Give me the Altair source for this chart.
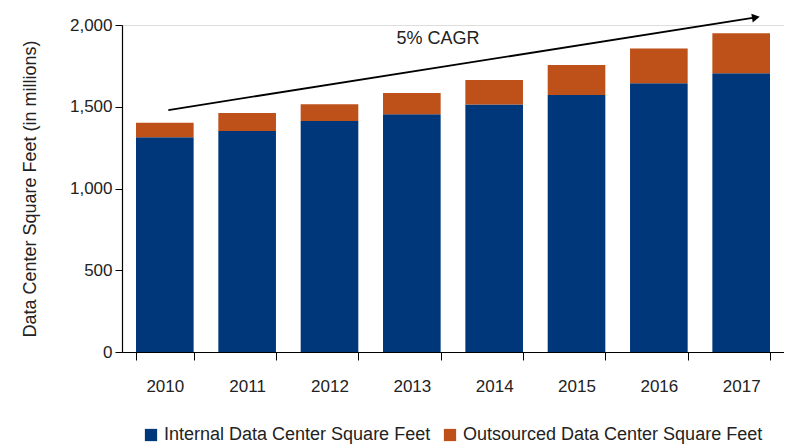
import altair as alt
import pandas as pd

years = ["2010", "2011", "2012", "2013", "2014", "2015", "2016", "2017"]
internal = [1313, 1352, 1413, 1454, 1513, 1572, 1643, 1705]
outsourced = [89, 110, 102, 130, 151, 183, 214, 244]
series = ["Internal Data Center Square Feet", "Outsourced Data Center Square Feet"]
colors = ["#00377A", "#BE501A"]

# annotation (arrow in band units along the year axis, value units on y)
arrow_x = [0.56, 7.66]
arrow_y = [1480, 2046]
cagr_label = "5% CAGR"
cagr_x = [3.82]
cagr_y = [1912]

FONT = "Liberation Sans"

rows = []
for i, yr in enumerate(years):
    rows.append({"year": yr, "series": series[0], "value": internal[i], "ord": 0})
    rows.append({"year": yr, "series": series[1], "value": outsourced[i], "ord": 1})
df = pd.DataFrame(rows)

ydom = [0, 2000]

bars = alt.Chart(df).mark_bar().encode(
    x=alt.X("year:N", sort=years,
            scale=alt.Scale(paddingInner=0.3, paddingOuter=0.17),
            axis=alt.Axis(title=None, labelAngle=0, tickBand="extent", tickSize=8,
                          labelPadding=18, labelFontSize=17, labelFont=FONT,
                          labelColor="#222222", domainColor="#000000",
                          tickColor="#000000", domainWidth=1.2)),
    y=alt.Y("value:Q", stack="zero",
            scale=alt.Scale(domain=ydom, nice=False),
            axis=alt.Axis(title="Data Center Square Feet (in millions)",
                          values=[0, 500, 1000, 1500, 2000], format=",.0f",
                          grid=False, tickSize=7, labelPadding=3,
                          labelFontSize=17, labelFont=FONT, labelColor="#222222",
                          titleFontSize=18, titleFont=FONT, titleFontWeight="normal",
                          titleColor="#222222", titlePadding=30,
                          domainColor="#000000", tickColor="#000000", domainWidth=1.2)),
    color=alt.Color("series:N",
                    scale=alt.Scale(domain=series, range=colors),
                    legend=alt.Legend(title=None, orient="none", direction="horizontal",
                                      legendX=20, legendY=401,
                                      symbolType="square", symbolSize=150,
                                      symbolStrokeWidth=0, labelFontSize=18,
                                      labelFont=FONT, labelColor="#222222",
                                      labelLimit=0, columnPadding=10, labelOffset=4)),
    order=alt.Order("ord:Q"),
)

arrow_df = pd.DataFrame({"x": arrow_x, "y": arrow_y})
xq = alt.Scale(domain=[0, 8], nice=False, zero=False)

arrow_line = alt.Chart(arrow_df).mark_line(color="#000000", strokeWidth=1.8).encode(
    x=alt.X("x:Q", scale=xq, axis=None),
    y=alt.Y("y:Q", scale=alt.Scale(domain=ydom, nice=False)),
)

head_df = pd.DataFrame({"x": [arrow_x[1]], "y": [arrow_y[1]]})
arrow_head = alt.Chart(head_df).mark_point(shape="triangle-right", filled=True,
                                           color="#000000", size=80, angle=351,
                                           opacity=1).encode(
    x=alt.X("x:Q", scale=xq, axis=None),
    y=alt.Y("y:Q", scale=alt.Scale(domain=ydom, nice=False)),
)

label_df = pd.DataFrame({"x": cagr_x, "y": cagr_y, "t": [cagr_label]})
label = alt.Chart(label_df).mark_text(fontSize=18, font=FONT, color="#222222",
                                      align="center", baseline="middle").encode(
    x=alt.X("x:Q", scale=xq, axis=None),
    y=alt.Y("y:Q", scale=alt.Scale(domain=ydom, nice=False)),
    text="t:N",
)

chart = alt.layer(bars, arrow_line, arrow_head, label).resolve_scale(
    x="independent"
).properties(
    width=662, height=327,
    padding={"left": 114, "top": 17, "right": 0, "bottom": 96},
    autosize=alt.AutoSizeParams(type="none"),
).configure_view(stroke=None).configure(background="white")

chart.save("out.html", embed_options={"renderer": "svg", "actions": False})
